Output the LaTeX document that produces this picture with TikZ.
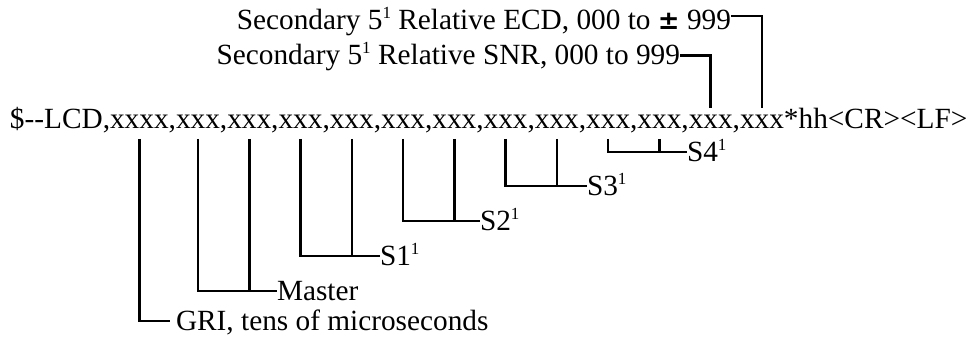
\documentclass[tikz,border=0pt]{standalone}
\usepackage{fontspec}
\setmainfont{Liberation Serif}
\newfontfamily\pmfont{DejaVu Sans}
\usetikzlibrary{positioning,calc}
\newcommand\supone{\raisebox{0.85ex}{\fontsize{8.5pt}{9pt}\selectfont 1}}

\begin{document}
\begin{tikzpicture}
[x=0.5pt,y=-0.5pt,line width=1.3pt,
 every node/.style={inner sep=0pt,outer sep=0pt,font=\fontsize{14.65pt}{17pt}\selectfont},
 field/.style={text height=10.5pt,text depth=5pt},
 lbl/.style={anchor=west,text height=9.7pt,text depth=0pt},
 toplbl/.style={anchor=base east,text height=9.7pt,text depth=0pt},]
\useasboundingbox (0,0) rectangle (969,341);
% the sentence, one node per field
\node (head) at (10,129)[anchor=base west] {\$-{}-LCD,};
\node (f0) at (head.base east)[field,anchor=base west] {xxxx};
\node (c0) at (f0.base east)[anchor=base west] {,};
\foreach \i [evaluate=\i as \p using int(\i-1)] in {1,...,11} {
  \node (f\i) at (c\p.base east)[field,anchor=base west] {xxx};
  \node (c\i) at (f\i.base east)[anchor=base west] {,};
}
\node (f12) at (c11.base east)[field,anchor=base west] {xxx};
\node (tail) at (f12.base east)[anchor=base west] {*hh<CR><LF>};
% labels
\node (gri) at (170,321)[lbl,inner xsep=3pt] {GRI, tens of microseconds};
\node (master) at (277,291)[lbl] {Master};
\node (sOne) at (380,256)[lbl] {S1\supone};
\node (sTwo) at (480,221)[lbl] {S2\supone};
\node (sThree) at (587,186)[lbl] {S3\supone};
\node (sFour) at (687,152)[lbl] {S4\supone};
\node (snr) at (680,65)[toplbl] {Secondary 5\supone{} Relative SNR, 000 to 999};
\node (ecd) at (731,30)[toplbl] {Secondary 5\supone{} Relative ECD, 000 to {\pmfont\bfseries\fontsize{13pt}{15pt}\selectfont ±} 999};
% brackets
\draw (f0.south) |- (gri.west);
\foreach \a/\b/\l in {1/2/master,3/4/sOne,5/6/sTwo,7/8/sThree,9/10/sFour} {
  \draw (f\a.south) |- (\l.west);
  \draw (f\b.south) -- (f\b.south |- \l.west);
}
\draw (f11.north) |- (snr.east);
\draw (f12.north) |- ([yshift=2.2pt]ecd.east);
\end{tikzpicture}
\end{document}
